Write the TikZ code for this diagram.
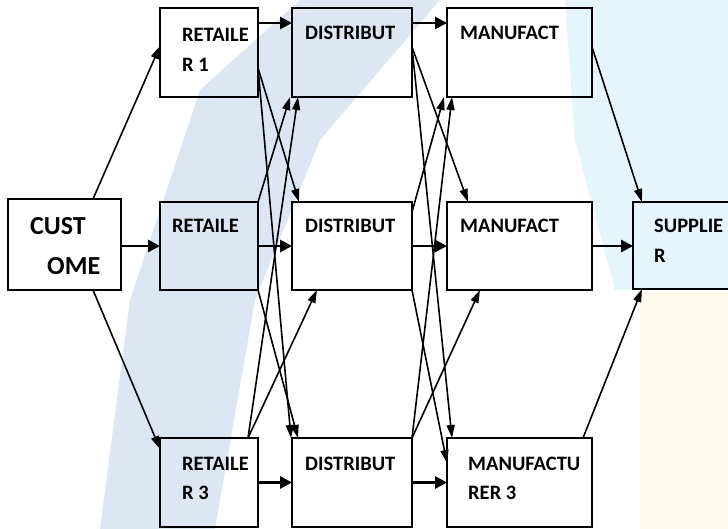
\documentclass[tikz,border=0pt]{standalone}
\usepackage{fontspec}
\setmainfont{Carlito}
\usetikzlibrary{arrows.meta}
\definecolor{wmblue}{HTML}{DDE7F4}
\definecolor{wmcyan}{HTML}{E4F5FB}
\definecolor{wmyellow}{HTML}{FFFBEC}
\begin{document}
\begin{tikzpicture}[x=1pt,y=-1pt,
  box/.style n args={2}{draw=black, line width=2.1pt, inner sep=0pt, outer sep=0pt,
    minimum width=#1, minimum height=#2, anchor=north west},
  lbl/.style={anchor=base west, inner sep=0pt, font=\bfseries\fontsize{20.5}{24}\selectfont},
  lblbig/.style={anchor=base west, inner sep=0pt, font=\bfseries\fontsize{26}{30}\selectfont},
  harr/.style={-{Triangle[length=12pt,width=12pt]}, line width=2.8pt},
  darr/.style={-{Triangle[length=13pt,width=8pt]}, line width=1.6pt}]
\useasboundingbox (0,0) rectangle (728,529);
\fill[white] (0,0) rectangle (728,529);
% faint watermark background
\fill[wmcyan] (565,0) -- (728,0) -- (728,290) -- (615,290) -- (575,140) -- cycle;
\fill[wmyellow] (640,292) rectangle (728,529);
\fill[wmblue] (100,529) -- (215,529) -- (255,300) -- (320,140) -- (440,0) -- (300,0) -- (200,90) -- (130,300) -- cycle;

% boxes
\node[box={113pt}{91pt}] (C) at (8,199) {};
\node[box={98pt}{89pt}] (R1) at (160,8) {};
\node[box={98pt}{88pt}] (R2) at (160,202) {};
\node[box={98pt}{89pt}] (R3) at (160,438) {};
\node[box={120pt}{89pt}] (D1) at (292,8) {};
\node[box={120pt}{88pt}] (D2) at (292,202) {};
\node[box={120pt}{89pt}] (D3) at (292,438) {};
\node[box={145pt}{89pt}] (M1) at (447,8) {};
\node[box={145pt}{88pt}] (M2) at (447,202) {};
\node[box={145pt}{89pt}] (M3) at (447,438) {};
\node[box={110pt}{87pt}] (S) at (633,202) {};

% labels
\node[lblbig] (tC1) at (30,235) {CUST};
\node[lblbig] (tC2) at (47,275) {OME};
\node[lbl] (tR1a) at (182,42) {RETAILE};
\node[lbl] (tR1b) at (182,72) {R 1};
\node[lbl] (tR2) at (172,233) {RETAILE};
\node[lbl] (tR3a) at (182,470) {RETAILE};
\node[lbl] (tR3b) at (182,499) {R 3};
\node[lbl] (tD1) at (305,40) {DISTRIBUT};
\node[lbl] (tD2) at (305,233) {DISTRIBUT};
\node[lbl] (tD3) at (305,470) {DISTRIBUT};
\node[lbl] (tM1) at (460,40) {MANUFACT};
\node[lbl] (tM2) at (460,233) {MANUFACT};
\node[lbl] (tM3a) at (468,470) {MANUFACTU};
\node[lbl] (tM3b) at (468,499) {RER 3};
\node[lbl] (tSa) at (654,233) {SUPPLIE};
\node[lbl] (tSb) at (654,263) {R};

% horizontal arrows
\draw[harr] (C.east |- R2.west) -- (R2.west);
\draw[harr] ([yshift=-15pt]R1.north east) -- ([yshift=-15pt]D1.north west);
\draw[harr] ([yshift=-15pt]D1.north east) -- ([yshift=-15pt]M1.north west);
\draw[harr] (R2.east) -- (D2.west);
\draw[harr] (D2.east) -- (M2.west);
\draw[harr] (M2.east) -- (M2.east -| S.west);
\draw[harr] (R3.east) -- (D3.west);
\draw[harr] (D3.east) -- (M3.west);

% customer to retailers
\draw[darr] ([xshift=85pt]C.north west) -- ([yshift=-38pt]R1.north west);
\draw[darr] ([xshift=85pt]C.south west) -- ([yshift=-11pt]R3.north west);

% retailers to distributors
\draw[darr] ([yshift=-60pt]R1.north east) -- ([xshift=7pt]D2.north west);
\draw[darr] ([yshift=-60pt]R1.north east) -- ([xshift=-1pt]D3.north west);
\draw[darr] (R2.north east) -- ([xshift=-2pt]D1.south west);
\draw[darr] (R2.south east) -- ([xshift=6pt]D3.north west);
\draw[darr] ([xshift=-10pt]R3.north east) -- ([xshift=6pt]D1.south west);
\draw[darr] ([xshift=-10pt]R3.north east) -- ([xshift=25pt]D2.south west);

% distributors to manufacturers
\draw[darr] ([yshift=-39pt]D1.north east) -- ([xshift=21pt]M2.north west);
\draw[darr] ([yshift=-39pt]D1.north east) -- ([xshift=5pt]M3.north west);
\draw[darr] ([yshift=-10pt]D2.north east) -- ([xshift=-3pt]M1.south west);
\draw[darr] (D2.south east) -- ([yshift=-25pt]M3.north west);
\draw[darr] (D3.north east) -- ([xshift=5pt]M1.south west);
\draw[darr] (D3.north east) -- ([xshift=33pt]M2.south west);

% manufacturers to supplier
\draw[darr] ([yshift=-39pt]M1.north east) -- ([xshift=9pt]S.north west);
\draw[darr] ([xshift=-9pt]M3.north east) -- ([xshift=9pt]S.south west);
\end{tikzpicture}
\end{document}
